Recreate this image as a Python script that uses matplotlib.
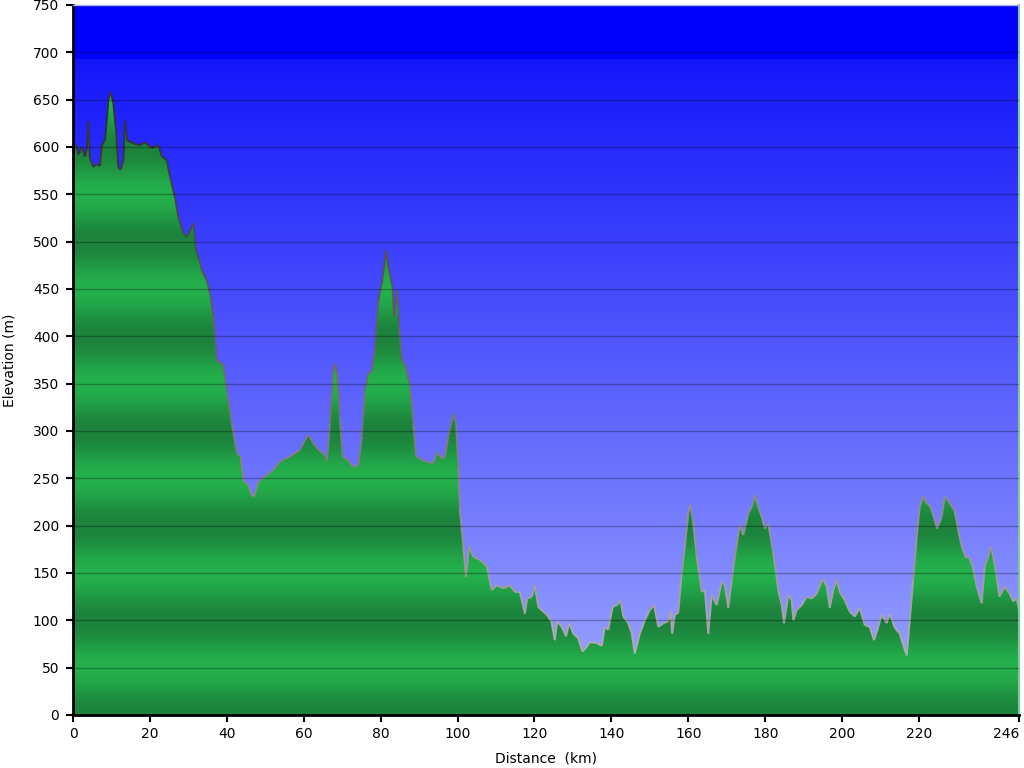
import numpy as np
import matplotlib
matplotlib.use("Agg")
import matplotlib.pyplot as plt
from matplotlib.collections import LineCollection

distance_km = [0.0, 0.5, 0.95, 1.4, 1.8, 2.3, 3.1, 3.6, 4.0, 4.4, 5.3, 6.2, 7.0, 7.5, 8.3, 8.8, 9.2, 9.8,
    10.5, 11.2, 11.8, 12.4, 13.1, 13.5, 14.1, 15.7, 17.4, 18.7, 20.5, 22.2, 23.1, 24.4, 25.2, 26.5,
    27.4, 28.7, 29.6, 31.3, 32.0, 33.0, 33.5, 34.8, 35.6, 36.5, 37.4, 38.2, 39.1, 40.0, 41.3, 42.6,
    43.6, 44.3, 45.6, 46.5, 47.1, 48.2, 49.9, 52.1, 53.8, 56.4, 59.0, 60.3, 61.2, 62.5, 63.8, 65.5,
    66.1, 66.8, 67.7, 68.1, 68.7, 69.4, 70.1, 71.6, 72.9, 74.2, 75.1, 75.9, 76.8, 77.7, 78.5, 79.4,
    80.3, 80.9, 81.4, 82.2, 83.1, 83.5, 84.3, 84.8, 85.5, 86.3, 87.6, 88.5, 89.2, 90.2, 91.5, 93.7,
    94.7, 95.9, 96.7, 97.6, 98.9, 99.6, 100.2, 100.6, 101.5, 102.2, 103.0, 104.1, 105.8, 107.6,
    108.9, 110.2, 111.9, 113.6, 114.9, 116.2, 117.5, 118.1, 119.3, 120.1, 121.0, 123.2, 124.4,
    125.3, 125.9, 127.1, 128.2, 129.0, 130.1, 131.4, 132.5, 133.6, 134.4, 136.2, 137.5, 138.3,
    139.2, 140.3, 141.4, 142.4, 143.1, 144.4, 145.3, 146.1, 147.4, 148.7, 150.0, 151.1, 152.2,
    153.5, 154.8, 155.4, 155.8, 156.5, 157.4, 158.3, 159.2, 160.0, 160.6, 161.3, 162.2, 163.5,
    164.3, 165.2, 166.1, 167.4, 168.7, 169.5, 170.4, 171.3, 172.1, 173.4, 174.3, 175.6, 176.5,
    177.3, 178.2, 179.1, 179.9, 180.8, 182.1, 183.4, 184.3, 184.9, 186.0, 186.9, 187.3, 188.2,
    189.5, 190.8, 192.1, 193.4, 194.9, 196.0, 196.8, 197.7, 198.6, 199.4, 200.7, 202.0, 203.3,
    204.6, 205.9, 207.2, 208.3, 209.4, 210.3, 211.6, 212.4, 213.7, 215.0, 215.9, 216.8, 217.6,
    218.5, 219.4, 220.2, 221.1, 222.0, 223.0, 223.9, 224.7, 225.9, 226.7, 228.0, 229.3, 230.2,
    231.1, 232.2, 233.0, 233.9, 235.0, 236.3, 237.1, 238.0, 238.6, 239.3, 240.2, 240.9, 242.3,
    243.6, 244.5, 245.4, 246.0]
elevation_m = [595, 600, 602, 592, 595, 600, 590, 598, 627, 588, 579, 582, 580, 602, 607, 628, 650, 658,
    646, 618, 578, 576, 586, 628, 607, 604, 602, 605, 599, 602, 590, 586, 569, 547,
    526, 509, 505, 519, 491, 478, 470, 459, 446, 422, 375, 372, 370, 343, 308, 277,
    273, 248, 243, 232, 231, 246, 252, 259, 268, 273, 280, 290, 296, 287, 280, 275,
    269, 308, 364, 371, 361, 315, 273, 269, 262, 264, 294, 343, 361, 363, 386, 438,
    456, 474, 491, 470, 452, 421, 449, 410, 375, 370, 350, 308, 273, 271, 268, 266,
    278, 271, 273, 294, 318, 308, 262, 217, 178, 146, 178, 167, 164, 157,
    132, 137, 134, 137, 130, 130, 107, 123, 125, 137, 114, 106, 99,
    79, 99, 93, 83, 97, 86, 81, 67, 72, 77, 76, 73, 93,
    90, 114, 116, 121, 104, 97, 86, 65, 86, 100, 111, 116, 93,
    97, 99, 110, 86, 106, 108, 150, 181, 213, 222, 202, 167, 130,
    132, 86, 127, 116, 141, 137, 113, 143, 167, 201, 190, 213, 220,
    232, 220, 209, 197, 202, 171, 132, 116, 97, 127, 121, 100, 111,
    116, 125, 123, 128, 144, 136, 113, 132, 143, 130, 121, 109, 104,
    113, 95, 93, 79, 93, 106, 97, 107, 92, 86, 74, 63, 100,
    143, 188, 220, 231, 224, 220, 208, 197, 209, 231, 224, 215, 195,
    178, 166, 167, 157, 136, 118, 157, 167, 178, 167, 146, 125, 136,
    128, 120, 123, 111]

x_ticks = [0, 20, 40, 60, 80, 100, 120, 140, 160, 180, 200, 220, 246]
y_ticks = list(range(0, 751, 50))
x_max = 246
y_max = 750

x = np.array(distance_km)
y = np.array(elevation_m, dtype=float)

fig = plt.figure(figsize=(10.24, 7.68), dpi=100)
ax = fig.add_axes([73 / 1024, 53 / 768, 946 / 1024, 710 / 768])
ax.set_xlim(0, x_max)
ax.set_ylim(0, y_max)

# background blue gradient
rows = 1500
yy = np.linspace(0, y_max, rows)
top = np.array([20, 22, 250]) / 255
bot = np.array([160, 170, 255]) / 255
frac = np.clip(yy / 693.0, 0, 1)
bg = bot[None, :] * (1 - frac[:, None]) + top[None, :] * frac[:, None]
bg[yy > 693] = np.array([0, 0, 255]) / 255
ax.imshow(bg[:, None, :], extent=[0, x_max, 0, y_max], origin="lower", aspect="auto",
          interpolation="bilinear", zorder=0)

# green banded fill
dark = np.array([28, 130, 60]) / 255
light = np.array([36, 176, 76]) / 255
t = (1 - np.cos(2 * np.pi * yy / 100.0)) / 2
gr = dark[None, :] * (1 - t[:, None]) + light[None, :] * t[:, None]
poly = ax.fill_between(x, 0, y, facecolor="none", edgecolor="none", zorder=1)
im = ax.imshow(gr[:, None, :], extent=[0, x_max, 0, y_max], origin="lower", aspect="auto",
               interpolation="bilinear", zorder=1)
im.set_clip_path(poly.get_paths()[0], transform=ax.transData)

# outline coloured by elevation
pts = np.column_stack([x, y])
segs = np.stack([pts[:-1], pts[1:]], axis=1)
mid = (y[:-1] + y[1:]) / 2
f = np.clip((mid - 60) / 560.0, 0, 1)
c_lo = np.array([175, 175, 180]) / 255
c_hi = np.array([50, 50, 60]) / 255
cols = c_lo[None, :] * (1 - f[:, None]) + c_hi[None, :] * f[:, None]
lc = LineCollection(segs, colors=cols, linewidths=1.4, zorder=2)
ax.add_collection(lc)

# grid lines
for v in y_ticks[1:-1]:
    ax.axhline(v, color="black", alpha=0.28, linewidth=1.0, zorder=3)

ax.set_xticks(x_ticks)
ax.set_yticks(y_ticks)
ax.tick_params(axis="both", direction="out", length=5, width=1.5, labelsize=10, colors="black")
ax.tick_params(axis="x", pad=4)
ax.tick_params(axis="y", pad=5)
labels = ax.get_xticklabels()
labels[-1].set_horizontalalignment("right")
labels[-1].set_x(x_max + 0.3)
for s in ["left", "bottom"]:
    ax.spines[s].set_linewidth(2)
    ax.spines[s].set_color("black")
ax.spines["top"].set_color("#a8b0e8")
ax.spines["top"].set_linewidth(1)
ax.spines["right"].set_color("#80c8a0")
ax.spines["right"].set_linewidth(1.5)

ax.set_xlabel("Distance  (km)", fontsize=10, labelpad=7)
ax.set_ylabel("Elevation (m)", fontsize=10, labelpad=12)

fig.savefig("out.png", dpi=100)
